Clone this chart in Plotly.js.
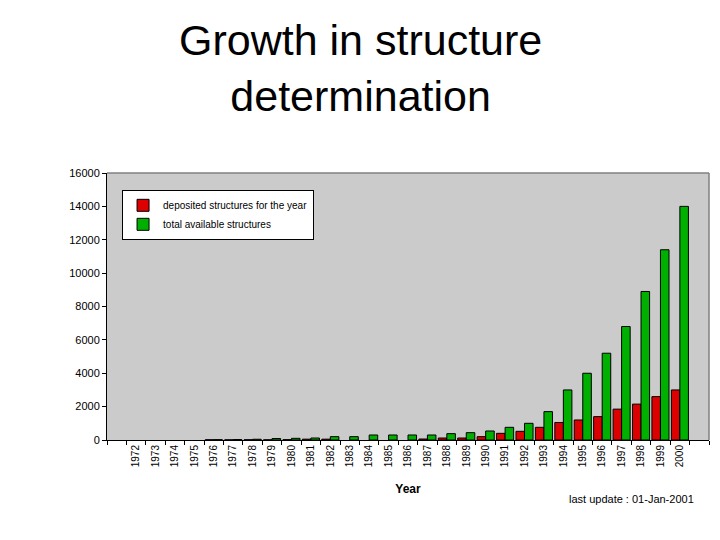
<!DOCTYPE html>
<html>
<head>
<meta charset="utf-8">
<script src="https://cdn.plot.ly/plotly-3.0.1.min.js"></script>
<style>html,body{margin:0;padding:0;background:#fff;}#chart{width:720px;height:540px;}</style>
</head>
<body>
<div id="chart"></div>
<script>
const years = [1972,1973,1974,1975,1976,1977,1978,1979,1980,1981,1982,1983,1984,1985,1986,1987,1988,1989,1990,1991,1992,1993,1994,1995,1996,1997,1998,1999,2000];
const yearLabels = years.map(String);
const deposited = [null,null,null,null,15,10,15,10,20,50,50,null,null,null,null,60,120,120,200,400,520,760,1050,1200,1400,1850,2150,2600,3000];
const total = [null,null,null,null,20,30,45,90,100,120,200,200,300,300,300,300,380,440,540,760,1000,1700,3000,4000,5200,6800,8900,11400,14000];
const seriesNames = ['deposited structures for the year','total available structures'];
const yTicks = [0,2000,4000,6000,8000,10000,12000,14000,16000];
const yTickText = yTicks.map(String);

const traces = [
  {type:'bar', x: years, y: deposited, name: seriesNames[0],
   marker:{color:'#dd0000', line:{color:'#000', width:1}}},
  {type:'bar', x: years, y: total, name: seriesNames[1],
   marker:{color:'#00b000', line:{color:'#000', width:1}}}
];

const layout = {
  width:720, height:540,
  paper_bgcolor:'#ffffff', plot_bgcolor:'#cbcbcb',
  margin:{l:107, r:11, t:173, b:100},
  barmode:'group', bargap:0.12, bargroupgap:0,
  font:{family:'Liberation Sans, Arial, sans-serif', color:'#000', size:10},
  xaxis:{range:[years[0]-1.5, years[years.length-1]+1.5], tickvals: years, ticktext: yearLabels,
         tickangle:-90, ticks:'', showgrid:false, zeroline:false,
         showline:true, linecolor:'#000', linewidth:1, mirror:false,
         tickfont:{size:10},
         minor:{ticks:'outside', tick0: years[0]-0.5, dtick:1, ticklen:4, tickcolor:'#000', showgrid:false},
         title:{text:'<b>Year</b>', font:{size:12}, standoff:18}},
  yaxis:{range:[0,16000], tickvals: yTicks, ticktext: yTickText, ticks:'outside', ticklen:4, tickcolor:'#000',
         showgrid:false, zeroline:false, showline:true, linecolor:'#000', linewidth:1,
         tickfont:{size:11}},
  showlegend:true,
  legend:{x:0.025, y:0.937, xanchor:'left', yanchor:'top', bgcolor:'#ffffff',
          bordercolor:'#000', borderwidth:1, font:{size:10}, tracegroupgap:0,
          itemwidth:30},
  shapes:[
    {type:'line', xref:'paper', yref:'paper', x0:0, x1:1, y0:1, y1:1, line:{color:'#808080', width:1.5}},
    {type:'line', xref:'paper', yref:'paper', x0:1, x1:1, y0:0, y1:1, line:{color:'#808080', width:1.5}}
  ],
  annotations:[
    {text:'Growth in structure<br>determination', xref:'paper', yref:'paper',
     x:(360-107)/602, y:1.393, xanchor:'center', yanchor:'middle', showarrow:false,
     font:{family:'Liberation Sans, Arial, sans-serif', size:43, color:'#000'}},
    {text:'last update : 01-Jan-2001', xref:'paper', yref:'paper', x:0.872, y:-0.22,
     xanchor:'center', yanchor:'middle', showarrow:false, font:{size:11}}
  ]
};
Plotly.newPlot('chart', traces, layout, {displayModeBar:false, staticPlot:true});
</script>
</body>
</html>
